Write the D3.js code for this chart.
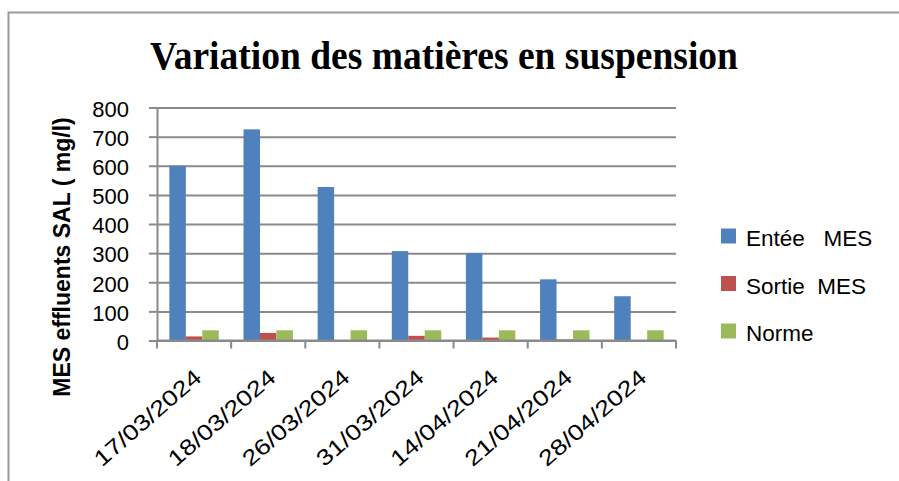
<!DOCTYPE html>
<html>
<head>
<meta charset="utf-8">
<script src="https://cdn.jsdelivr.net/npm/d3@7"></script>
<style>
  body { margin: 0; background: #fff; }
  text { font-family: "Liberation Sans", Arial, sans-serif; }
</style>
</head>
<body>
<svg id="chart" width="899" height="481"></svg>
<script>
var categories = ["17/03/2024", "18/03/2024", "26/03/2024", "31/03/2024", "14/04/2024", "21/04/2024", "28/04/2024"];
var seriesNames = ["Entée   MES", "Sortie  MES", "Norme"];
var entree = [600, 725, 527, 307, 300, 210, 152];
var sortie = [14, 26, 1, 16, 10, 4, 1];
var norme = [35, 35, 35, 35, 35, 35, 35];
var yTicks = [0, 100, 200, 300, 400, 500, 600, 700, 800];
var colors = ["#4f81bd", "#c0504d", "#9bbb59"];

var svg = d3.select("#chart"),
    width = +svg.attr("width"),
    height = +svg.attr("height");

svg.append("rect").attr("width", width).attr("height", height).attr("fill", "#fff");

// outer frame (only left and top visible)
svg.append("path")
    .attr("d", "M8.5,481 L8.5,12.5 L899,12.5")
    .attr("fill", "none")
    .attr("stroke", "#9a9a9a")
    .attr("stroke-width", 2);

var plotLeft = 157, plotRight = 676, plotTop = 107.5, plotBottom = 340.5;

var x0 = d3.scaleBand().domain(categories).range([plotLeft, plotRight]).padding(0);
var x1 = d3.scaleBand().domain(seriesNames).range([0, x0.bandwidth()]).paddingInner(0).paddingOuter(0.75);
var y = d3.scaleLinear().domain([0, 800]).range([plotBottom, plotTop]);

// gridlines
svg.append("g")
    .attr("transform", "translate(" + plotLeft + ",0)")
    .call(d3.axisLeft(y).tickValues(yTicks).tickSize(-(plotRight - plotLeft)).tickFormat(""))
    .call(function(g) {
      g.select(".domain").remove();
      g.selectAll("line").attr("stroke", "#8a8a8a").attr("stroke-width", 2);
    });

// y axis with labels
svg.append("g")
    .attr("transform", "translate(" + plotLeft + ",0)")
    .call(d3.axisLeft(y).tickValues(yTicks).tickSize(8).tickSizeOuter(0).tickPadding(20))
    .call(function(g) {
      g.select(".domain").attr("stroke", "#8a8a8a").attr("stroke-width", 2);
      g.selectAll("line").attr("stroke", "#8a8a8a").attr("stroke-width", 2);
      g.selectAll("text")
        .attr("font-family", "Liberation Sans, Arial, sans-serif")
        .attr("font-size", 22)
        .attr("fill", "#000")
        .attr("dy", "0.4em");
    });

// bars
var rows = categories.map(function(c, i) {
  return { cat: c, vals: [entree[i], sortie[i], norme[i]] };
});

var groups = svg.append("g").selectAll("g")
    .data(rows)
    .enter().append("g")
    .attr("transform", function(d) { return "translate(" + x0(d.cat) + ",0)"; });

groups.selectAll("rect")
    .data(function(d) { return d.vals.map(function(v, j) { return { s: seriesNames[j], v: v, j: j }; }); })
    .enter().append("rect")
    .attr("x", function(d) { return x1(d.s); })
    .attr("width", x1.bandwidth())
    .attr("y", function(d) { return y(d.v); })
    .attr("height", function(d) { return y(0) - y(d.v); })
    .attr("fill", function(d) { return colors[d.j]; });

// x axis line and boundary ticks
svg.append("line")
    .attr("x1", plotLeft).attr("x2", plotRight)
    .attr("y1", y(0)).attr("y2", y(0))
    .attr("stroke", "#8a8a8a").attr("stroke-width", 2);

svg.append("g").selectAll("line")
    .data(d3.range(categories.length + 1))
    .enter().append("line")
    .attr("x1", function(i) { return plotLeft + i * x0.step(); })
    .attr("x2", function(i) { return plotLeft + i * x0.step(); })
    .attr("y1", y(0)).attr("y2", y(0) + 8)
    .attr("stroke", "#8a8a8a").attr("stroke-width", 2);

// rotated category labels
svg.append("g").selectAll("text")
    .data(categories)
    .enter().append("text")
    .attr("transform", function(d) {
      return "translate(" + (x0(d) + x0.bandwidth() / 2 + 9) + "," + (y(0) + 39) + ") rotate(-41)";
    })
    .attr("text-anchor", "end")
    .attr("font-size", 22)
    .attr("textLength", 134)
    .attr("lengthAdjust", "spacingAndGlyphs")
    .text(function(d) { return d; });

// y axis title
svg.append("text")
    .attr("transform", "translate(70," + ((plotTop + plotBottom) / 2 + 33) + ") rotate(-90)")
    .attr("text-anchor", "middle")
    .attr("font-size", 23)
    .attr("font-weight", "bold")
    .text("MES effluents SAL ( mg/l)");

// chart title
svg.append("text")
    .attr("x", 150)
    .attr("y", 69)
    .style("font-family", "'Liberation Serif', 'Times New Roman', serif")
    .attr("font-size", 41)
    .attr("font-weight", "bold")
    .attr("textLength", 588)
    .attr("lengthAdjust", "spacingAndGlyphs")
    .text("Variation des matières en suspension");

// legend
var legend = svg.append("g").selectAll("g")
    .data(seriesNames)
    .enter().append("g")
    .attr("transform", function(d, i) { return "translate(721," + (236 + i * 47.5) + ")"; });

legend.append("rect")
    .attr("x", 0).attr("y", -7.5)
    .attr("width", 15).attr("height", 15)
    .attr("fill", function(d, i) { return colors[i]; });

legend.append("text")
    .attr("x", 25)
    .attr("y", 10)
    .attr("font-size", 22.5)
    .style("white-space", "pre")
    .text(function(d) { return d; });
</script>
</body>
</html>
